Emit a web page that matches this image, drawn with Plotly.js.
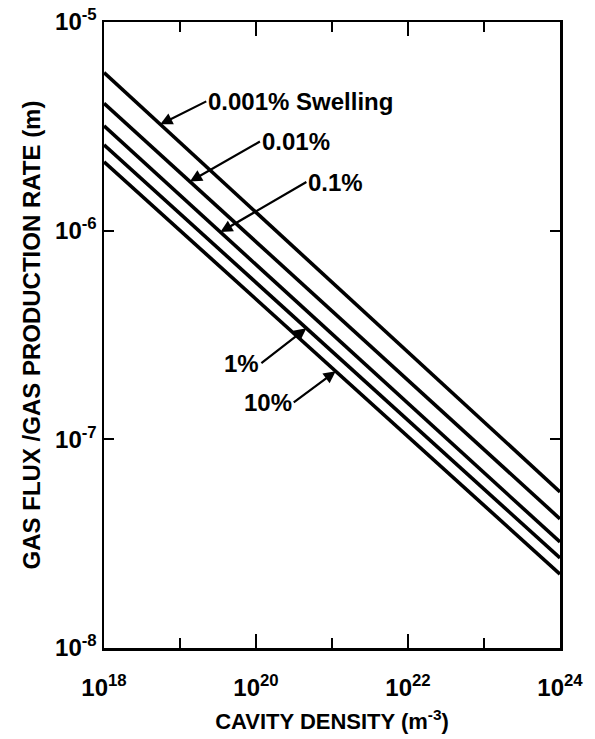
<!DOCTYPE html>
<html>
<head>
<meta charset="utf-8">
<script src="https://cdn.plot.ly/plotly-3.0.1.min.js"></script>
<style>html,body{margin:0;padding:0;background:#fff;}#chart{width:595px;height:739px;}</style>
</head>
<body>
<div id="chart"></div>
<script>
// Cavity density endpoints (m^-3)
const cavityDensity = [1e18, 1e24];
// Series: swelling levels, values read at the two plot edges
const seriesNames = ['0.001% Swelling', '0.01%', '0.1%', '1%', '10%'];
const swell0001 = [5.72e-6, 5.6e-8];
const swell001  = [4.08e-6, 4.16e-8];
const swell01   = [3.18e-6, 3.22e-8];
const swell1    = [2.58e-6, 2.70e-8];
const swell10   = [2.14e-6, 2.26e-8];
const seriesValues = [swell0001, swell001, swell01, swell1, swell10];

// Tick labels
const xTickVals = [1e18, 1e20, 1e22, 1e24];
const xTickText = ['10<sup>18</sup>', '10<sup>20</sup>', '10<sup>22</sup>', '10<sup>24</sup>'];
const xMinorVals = [1e19, 1e21, 1e23];
const yTickVals = [1e-8, 1e-7, 1e-6, 1e-5];
const yTickText = ['10<sup>-8</sup>', '10<sup>-7</sup>', '10<sup>-6</sup>', '10<sup>-5</sup>'];

// Label arrow tips: x position along each line
const labelTipX = [5.5e18, 1.35e19, 3.4e19, 4.6e20, 1.12e21];

const FONT = 'Liberation Sans, Arial, sans-serif';

function valueAt(vals, x) {
  const lx0 = Math.log10(cavityDensity[0]), lx1 = Math.log10(cavityDensity[1]);
  const t = (Math.log10(x) - lx0) / (lx1 - lx0);
  return Math.pow(10, Math.log10(vals[0]) + t * (Math.log10(vals[1]) - Math.log10(vals[0])));
}

const traces = seriesValues.map((v, i) => ({
  x: cavityDensity, y: v, name: seriesNames[i], type: 'scatter', mode: 'lines',
  line: {color: '#000', width: 3.6}, hoverinfo: 'skip'
}));

const labelOffsets = [
  {ax: 46, ay: -23, xanchor: 'left'},
  {ax: 70, ay: -40, xanchor: 'left'},
  {ax: 86, ay: -50, xanchor: 'left'},
  {ax: -45, ay: 35, xanchor: 'right'},
  {ax: -42, ay: 31, xanchor: 'right'}
];

const annotations = seriesNames.map((n, i) => ({
  x: Math.log10(labelTipX[i]), y: Math.log10(valueAt(seriesValues[i], labelTipX[i])),
  xref: 'x', yref: 'y', text: n, showarrow: true,
  ax: labelOffsets[i].ax, ay: labelOffsets[i].ay,
  xanchor: labelOffsets[i].xanchor, yanchor: 'middle',
  arrowhead: 2, arrowsize: 1.1, arrowwidth: 2.2, arrowcolor: '#000', standoff: 0,
  font: {family: FONT, size: 24, color: '#000', weight: 'bold'}
}));

const layout = {
  width: 595, height: 739,
  margin: {l: 104, r: 35, t: 22, b: 91},
  paper_bgcolor: '#fff', plot_bgcolor: '#fff',
  showlegend: false,
  font: {family: FONT, color: '#000'},
  xaxis: {
    type: 'log', range: [18, 24],
    tickvals: xTickVals, ticktext: xTickText,
    ticks: 'inside', ticklen: 14, tickwidth: 2, tickcolor: '#000',
    minor: {tickvals: xMinorVals, ticks: 'inside', ticklen: 10, tickwidth: 2, tickcolor: '#000', showgrid: false},
    showline: true, linecolor: '#000', linewidth: 2.5, mirror: 'ticks',
    showgrid: false, zeroline: false,
    ticklabelstandoff: 17,
    tickfont: {family: FONT, size: 24, color: '#000', weight: 'bold'},
    title: {text: 'CAVITY DENSITY (m<sup>-3</sup>)', font: {family: FONT, size: 22, color: '#000', weight: 'bold'}, standoff: 14}
  },
  yaxis: {
    type: 'log', range: [-8, -5],
    tickvals: yTickVals, ticktext: yTickText,
    ticks: 'inside', ticklen: 10, tickwidth: 2, tickcolor: '#000',
    showline: true, linecolor: '#000', linewidth: 2.5, mirror: 'ticks',
    showgrid: false, zeroline: false,
    tickfont: {family: FONT, size: 24, color: '#000', weight: 'bold'},
    title: {text: 'GAS FLUX /GAS PRODUCTION RATE (m)', font: {family: FONT, size: 24, color: '#000', weight: 'bold'}, standoff: 8}
  },
  annotations: annotations
};

Plotly.newPlot('chart', traces, layout, {staticPlot: true, displayModeBar: false});
</script>
</body>
</html>
